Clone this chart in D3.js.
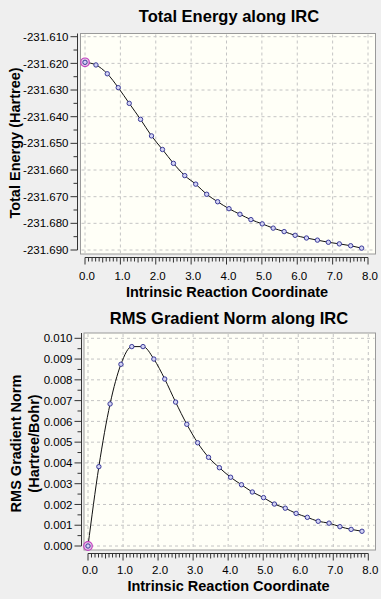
<!DOCTYPE html>
<html><head><meta charset="utf-8">
<script src="https://cdn.jsdelivr.net/npm/d3@7"></script>
<style>
html,body{margin:0;padding:0;background:#efefef;}
svg{display:block;}
text{font-family:"Liberation Sans",Arial,sans-serif;fill:#000;}
</style></head><body>
<script>
// ---- data ----
const irc = [0.00,0.31,0.63,0.94,1.25,1.57,1.88,2.19,2.50,2.82,3.13,3.44,3.75,4.07,4.38,4.69,5.01,5.32,5.63,5.94,6.26,6.57,6.88,7.19,7.51,7.82];
const energy = [-231.6196,-231.6206,-231.6239,-231.6291,-231.6350,-231.6410,-231.6472,-231.6523,-231.6575,-231.6621,-231.6653,-231.6691,-231.6719,-231.6745,-231.6766,-231.6786,-231.6802,-231.6818,-231.6831,-231.6845,-231.6855,-231.6863,-231.6871,-231.6877,-231.6884,-231.6893];
const gradient = [0.00000,0.00382,0.00684,0.00875,0.00960,0.00960,0.00900,0.00804,0.00693,0.00586,0.00497,0.00427,0.00377,0.00331,0.00295,0.00260,0.00233,0.00202,0.00182,0.00157,0.00138,0.00119,0.00110,0.00093,0.00080,0.00071];
const xTicks = [0,1,2,3,4,5,6,7,8];
const energyTicks = [-231.610,-231.620,-231.630,-231.640,-231.650,-231.660,-231.670,-231.680,-231.690];
const gradTicks = [0.010,0.009,0.008,0.007,0.006,0.005,0.004,0.003,0.002,0.001,0.000];
const titles = ["Total Energy along IRC","RMS Gradient Norm along IRC"];
const xTitle = "Intrinsic Reaction Coordinate";
const yTitles = [["Total Energy (Hartree)"],["RMS Gradient Norm","(Hartree/Bohr)"]];

const W = 381, H = 599;
const svg = d3.select("body").append("svg").attr("width",W).attr("height",H);
svg.append("rect").attr("width",W).attr("height",H).attr("fill","#efefef");

function chart(cfg){
  const g = svg.append("g");
  const x = d3.scaleLinear().domain([0,8]).range(cfg.xr);
  const y = d3.scaleLinear().domain(cfg.ydom).range(cfg.yr);
  // frame / background
  g.append("rect").attr("x",cfg.fx0).attr("y",cfg.fy0)
    .attr("width",cfg.fx1-cfg.fx0).attr("height",cfg.fy1-cfg.fy0)
    .attr("fill","#fffff7").attr("stroke","#9a9a9a").attr("stroke-width",1);
  // grid
  g.selectAll(".vg").data(xTicks).join("line")
    .attr("x1",d=>x(d)).attr("x2",d=>x(d)).attr("y1",cfg.fy0+1).attr("y2",cfg.fy1-1)
    .attr("stroke","#c4c4c4").attr("stroke-dasharray","3,3").attr("stroke-width",1);
  g.selectAll(".hg").data(cfg.yt).join("line")
    .attr("x1",cfg.fx0+1).attr("x2",cfg.fx1-1).attr("y1",d=>y(d)).attr("y2",d=>y(d))
    .attr("stroke","#c4c4c4").attr("stroke-dasharray","3,3").attr("stroke-width",1);
  // y axis
  const ya = cfg.yaxisX;
  const ymin = d3.min(cfg.yt);
  g.append("line").attr("x1",ya).attr("x2",ya).attr("y1",cfg.fy0).attr("y2",y(ymin))
    .attr("stroke","#333").attr("stroke-width",1);
  g.selectAll(".yt").data(cfg.yt).join("line")
    .attr("x1",ya-7).attr("x2",ya).attr("y1",d=>y(d)).attr("y2",d=>y(d)).attr("stroke","#333");
  const step = cfg.yt[0]-cfg.yt[1];
  g.selectAll(".ym").data(cfg.yt.slice(1)).join("line")
    .attr("x1",ya-4).attr("x2",ya).attr("y1",d=>y(d+step/2)).attr("y2",d=>y(d+step/2)).attr("stroke","#333");
  g.selectAll(".yl").data(cfg.yt).join("text")
    .attr("x",ya-9).attr("y",d=>y(d)).attr("dy","0.36em").attr("text-anchor","end")
    .attr("font-size","11.5px").text(d=>d.toFixed(3));
  // x axis
  const xa = cfg.xaxisY;
  g.append("line").attr("x1",x(0)).attr("x2",x(8)).attr("y1",xa).attr("y2",xa).attr("stroke","#333");
  const minor = d3.range(0,80.5,1).map(d=>d/10);
  g.selectAll(".xm").data(minor).join("line")
    .attr("x1",d=>x(d)).attr("x2",d=>x(d)).attr("y1",xa)
    .attr("y2",d=>xa+(Math.abs(d-Math.round(d))<1e-6?7:(Math.abs(d*2-Math.round(d*2))<1e-6?5:4)))
    .attr("stroke","#333");
  g.selectAll(".xl").data(xTicks).join("text")
    .attr("x",d=>x(d)+2).attr("y",cfg.xlabY).attr("text-anchor","middle")
    .attr("font-size","11.5px").text(d=>d.toFixed(1));
  // titles
  g.append("text").attr("x",cfg.titleX).attr("y",cfg.titleY).attr("text-anchor","middle")
    .attr("font-size","16.5px").attr("font-weight","bold").text(cfg.title);
  g.append("text").attr("x",cfg.xtX).attr("y",cfg.xtY).attr("text-anchor","middle")
    .attr("font-size","14.5px").attr("font-weight","bold").text(xTitle);
  cfg.ytitle.forEach((t,i)=>{
    g.append("text").attr("transform",`translate(${cfg.ytX[i]},${cfg.ytY}) rotate(-90)`)
      .attr("text-anchor","middle").attr("font-size","14.5px").attr("font-weight","bold").text(t);
  });
  // line and markers
  const pts = irc.map((d,i)=>[d,cfg.vals[i]]);
  g.append("path").datum(pts)
    .attr("d",d3.line().x(d=>x(d[0])).y(d=>y(d[1])).curve(d3.curveMonotoneX))
    .attr("fill","none").attr("stroke","#111").attr("stroke-width",1);
  g.append("circle").attr("cx",x(pts[0][0])).attr("cy",y(pts[0][1])).attr("r",4.3)
    .attr("fill","#e8c8e8").attr("stroke","#c040c0").attr("stroke-width",1.2);
  g.selectAll(".pt").data(pts).join("circle")
    .attr("cx",d=>x(d[0])).attr("cy",d=>y(d[1])).attr("r",2.2)
    .attr("fill","#d4d4f4").attr("stroke","#3a3a98").attr("stroke-width",1);
}

chart({
  xr:[85,368], ydom:[-231.690,-231.610], yr:[250,36.7], yt:energyTicks, vals:energy,
  fx0:80.5, fx1:375.5, fy0:33.5, fy1:254, yaxisX:77.5, xaxisY:257.5, xlabY:279.5,
  title:titles[0], titleX:229, titleY:21.5, xtX:227, xtY:296.5,
  ytitle:yTitles[0], ytX:[20], ytY:143
});
chart({
  xr:[88,368.3], ydom:[0,0.010], yr:[546,338.3], yt:gradTicks, vals:gradient,
  fx0:84, fx1:375.5, fy0:333, fy1:550, yaxisX:81.5, xaxisY:553.5, xlabY:573.5,
  title:titles[1], titleX:229, titleY:323.5, xtX:228.5, xtY:590.5,
  ytitle:yTitles[1], ytX:[20.5,39], ytY:443.5
});
</script>
</body></html>
